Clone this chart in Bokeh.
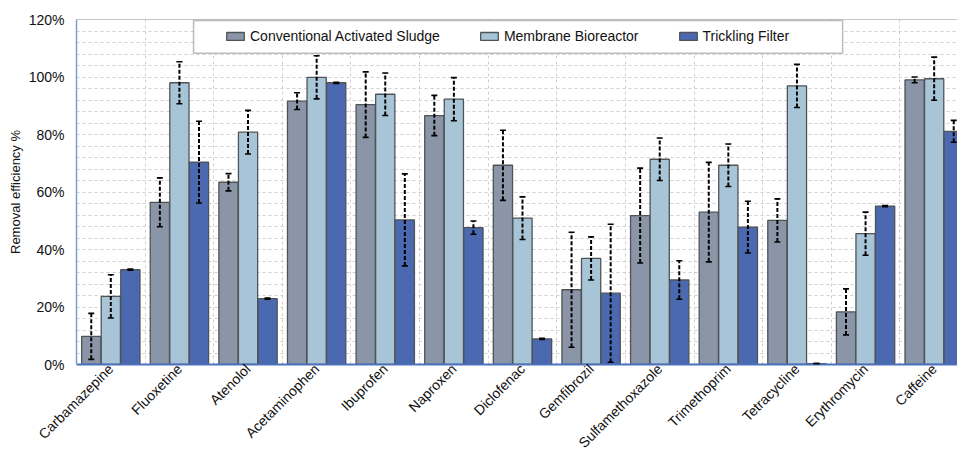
import math
from bokeh.plotting import figure
from bokeh.models import (ColumnDataSource, Whisker, TeeHead, FixedTicker, Legend, LegendItem,
                          BoxAnnotation, Span, Range1d)
from bokeh.embed import file_html
from bokeh.resources import INLINE

categories = ["Carbamazepine", "Fluoxetine", "Atenolol", "Acetaminophen", "Ibuprofen", "Naproxen",
              "Diclofenac", "Gemfibrozil", "Sulfamethoxazole", "Trimethoprim", "Tetracycline",
              "Erythromycin", "Caffeine"]
series_names = ["Conventional Activated Sludge", "Membrane Bioreactor", "Trickling Filter"]

cas = [9.8, 56.4, 63.4, 91.6, 90.4, 86.6, 69.3, 26.0, 51.8, 53.0, 50.1, 18.3, 99.0]
cas_err = [8.0, 8.5, 3.0, 2.9, 11.4, 7.0, 12.2, 20.0, 16.5, 17.3, 7.5, 8.0, 1.0]
mbr = [23.7, 98.0, 80.8, 99.9, 94.0, 92.3, 50.9, 36.9, 71.4, 69.3, 96.9, 45.5, 99.4]
mbr_err = [7.5, 7.3, 7.6, 7.5, 7.4, 7.5, 7.4, 7.5, 7.4, 7.4, 7.5, 7.5, 7.5]
tf = [33.0, 70.4, 22.9, 98.0, 50.3, 47.6, 8.9, 24.8, 29.4, 47.8, 0.3, 55.1, 81.1]
tf_err = [0.2, 14.2, 0.2, 0.2, 16.0, 2.3, 0.2, 24.0, 6.7, 9.0, 0.0, 0.2, 3.8]

y_ticks = [0, 20, 40, 60, 80, 100, 120]
y_tick_labels = ["0%", "20%", "40%", "60%", "80%", "100%", "120%"]

colors = ["#8B95A8", "#A8C5D8", "#4B69B1"]
FONT = "Liberation Sans"

p = figure(width=957, height=459, output_backend="svg", toolbar_location=None,
           x_range=Range1d(0, 12.84), y_range=Range1d(0, 120),
           min_border_left=76, min_border_top=19, min_border_right=0, min_border_bottom=92)
p.outline_line_color = None
p.background_fill_color = "white"
p.border_fill_color = "white"

centers = [i + 0.5 for i in range(len(categories))]
offset = 0.285
bw = 0.28

renderers = []
for k, (vals, errs) in enumerate([(cas, cas_err), (mbr, mbr_err), (tf, tf_err)]):
    xs = [c + (k - 1) * offset for c in centers]
    src = ColumnDataSource(dict(x=xs, top=vals,
                                upper=[v + e for v, e in zip(vals, errs)],
                                lower=[v - e for v, e in zip(vals, errs)]))
    r = p.vbar(x="x", top="top", width=bw, source=src, fill_color=colors[k],
               line_color="#4f5356", line_width=1.3)
    renderers.append(r)
    w = Whisker(source=src, base="x", upper="upper", lower="lower", dimension="height",
                line_color="black", line_width=2, line_dash="4 2", level="annotation",
                upper_head=TeeHead(size=6, line_width=1.6, line_color="black"),
                lower_head=TeeHead(size=6, line_width=1.6, line_color="black"))
    p.add_layout(w)

# grids
p.xgrid.ticker = FixedTicker(ticks=list(range(1, len(categories))))
p.xgrid.grid_line_color = "#cfcfcf"
p.xgrid.grid_line_dash = "3 3"
p.ygrid.ticker = FixedTicker(ticks=list(range(0, 121, 4)))
p.ygrid.grid_line_color = "#cfcfcf"
p.ygrid.grid_line_dash = "3 3"

p.add_layout(Span(location=120, dimension="width", line_color="#8a8a8a", line_width=1.2))

# axes
p.yaxis.ticker = FixedTicker(ticks=y_ticks)
p.yaxis.major_label_overrides = {t: l for t, l in zip(y_ticks, y_tick_labels)}
p.yaxis.axis_label = "Removal efficiency %"
p.yaxis.axis_label_text_font = FONT
p.yaxis.axis_label_text_font_size = "13px"
p.yaxis.axis_label_text_font_style = "normal"
p.yaxis.axis_label_text_color = "#111111"
p.yaxis.axis_label_standoff = 3
p.yaxis.major_label_text_font = FONT
p.yaxis.major_label_text_font_size = "14px"
p.yaxis.major_label_text_color = "#111111"
p.yaxis.major_label_standoff = 12
p.yaxis.major_tick_out = 0
p.yaxis.major_tick_in = 0
p.yaxis.major_tick_line_color = None
p.yaxis.minor_tick_line_color = None
p.yaxis.axis_line_color = "#7f9fd2"
p.yaxis.axis_line_width = 1.5

p.xaxis.ticker = FixedTicker(ticks=centers)
p.xaxis.major_label_overrides = {c: n for c, n in zip(centers, categories)}
p.xaxis.major_label_orientation = math.pi / 4
p.xaxis.major_label_text_font = FONT
p.xaxis.major_label_text_font_size = "14px"
p.xaxis.major_label_text_color = "#111111"
p.xaxis.major_label_standoff = 2
p.xaxis.major_tick_out = 0
p.xaxis.major_tick_in = 0
p.xaxis.major_tick_line_color = None
p.xaxis.minor_tick_line_color = None
p.xaxis.axis_line_color = "#4a72c0"
p.xaxis.axis_line_width = 2

# legend frame
p.add_layout(BoxAnnotation(left=1.706, right=11.166, bottom=108.3, top=119.66,
                           fill_color="white", fill_alpha=1.0, line_color="#222222",
                           line_width=1.5, level="annotation"))

legend = Legend(items=[LegendItem(label=n, renderers=[r]) for n, r in zip(series_names, renderers)],
                orientation="horizontal", location=(148, 320), padding=0, margin=0,
                spacing=38, glyph_width=22, glyph_height=10, label_standoff=4,
                label_text_font=FONT, label_text_font_size="14px", label_text_color="#111111",
                border_line_alpha=0, background_fill_alpha=0)
p.add_layout(legend)

open("out.html", "w").write(file_html(p, INLINE))
